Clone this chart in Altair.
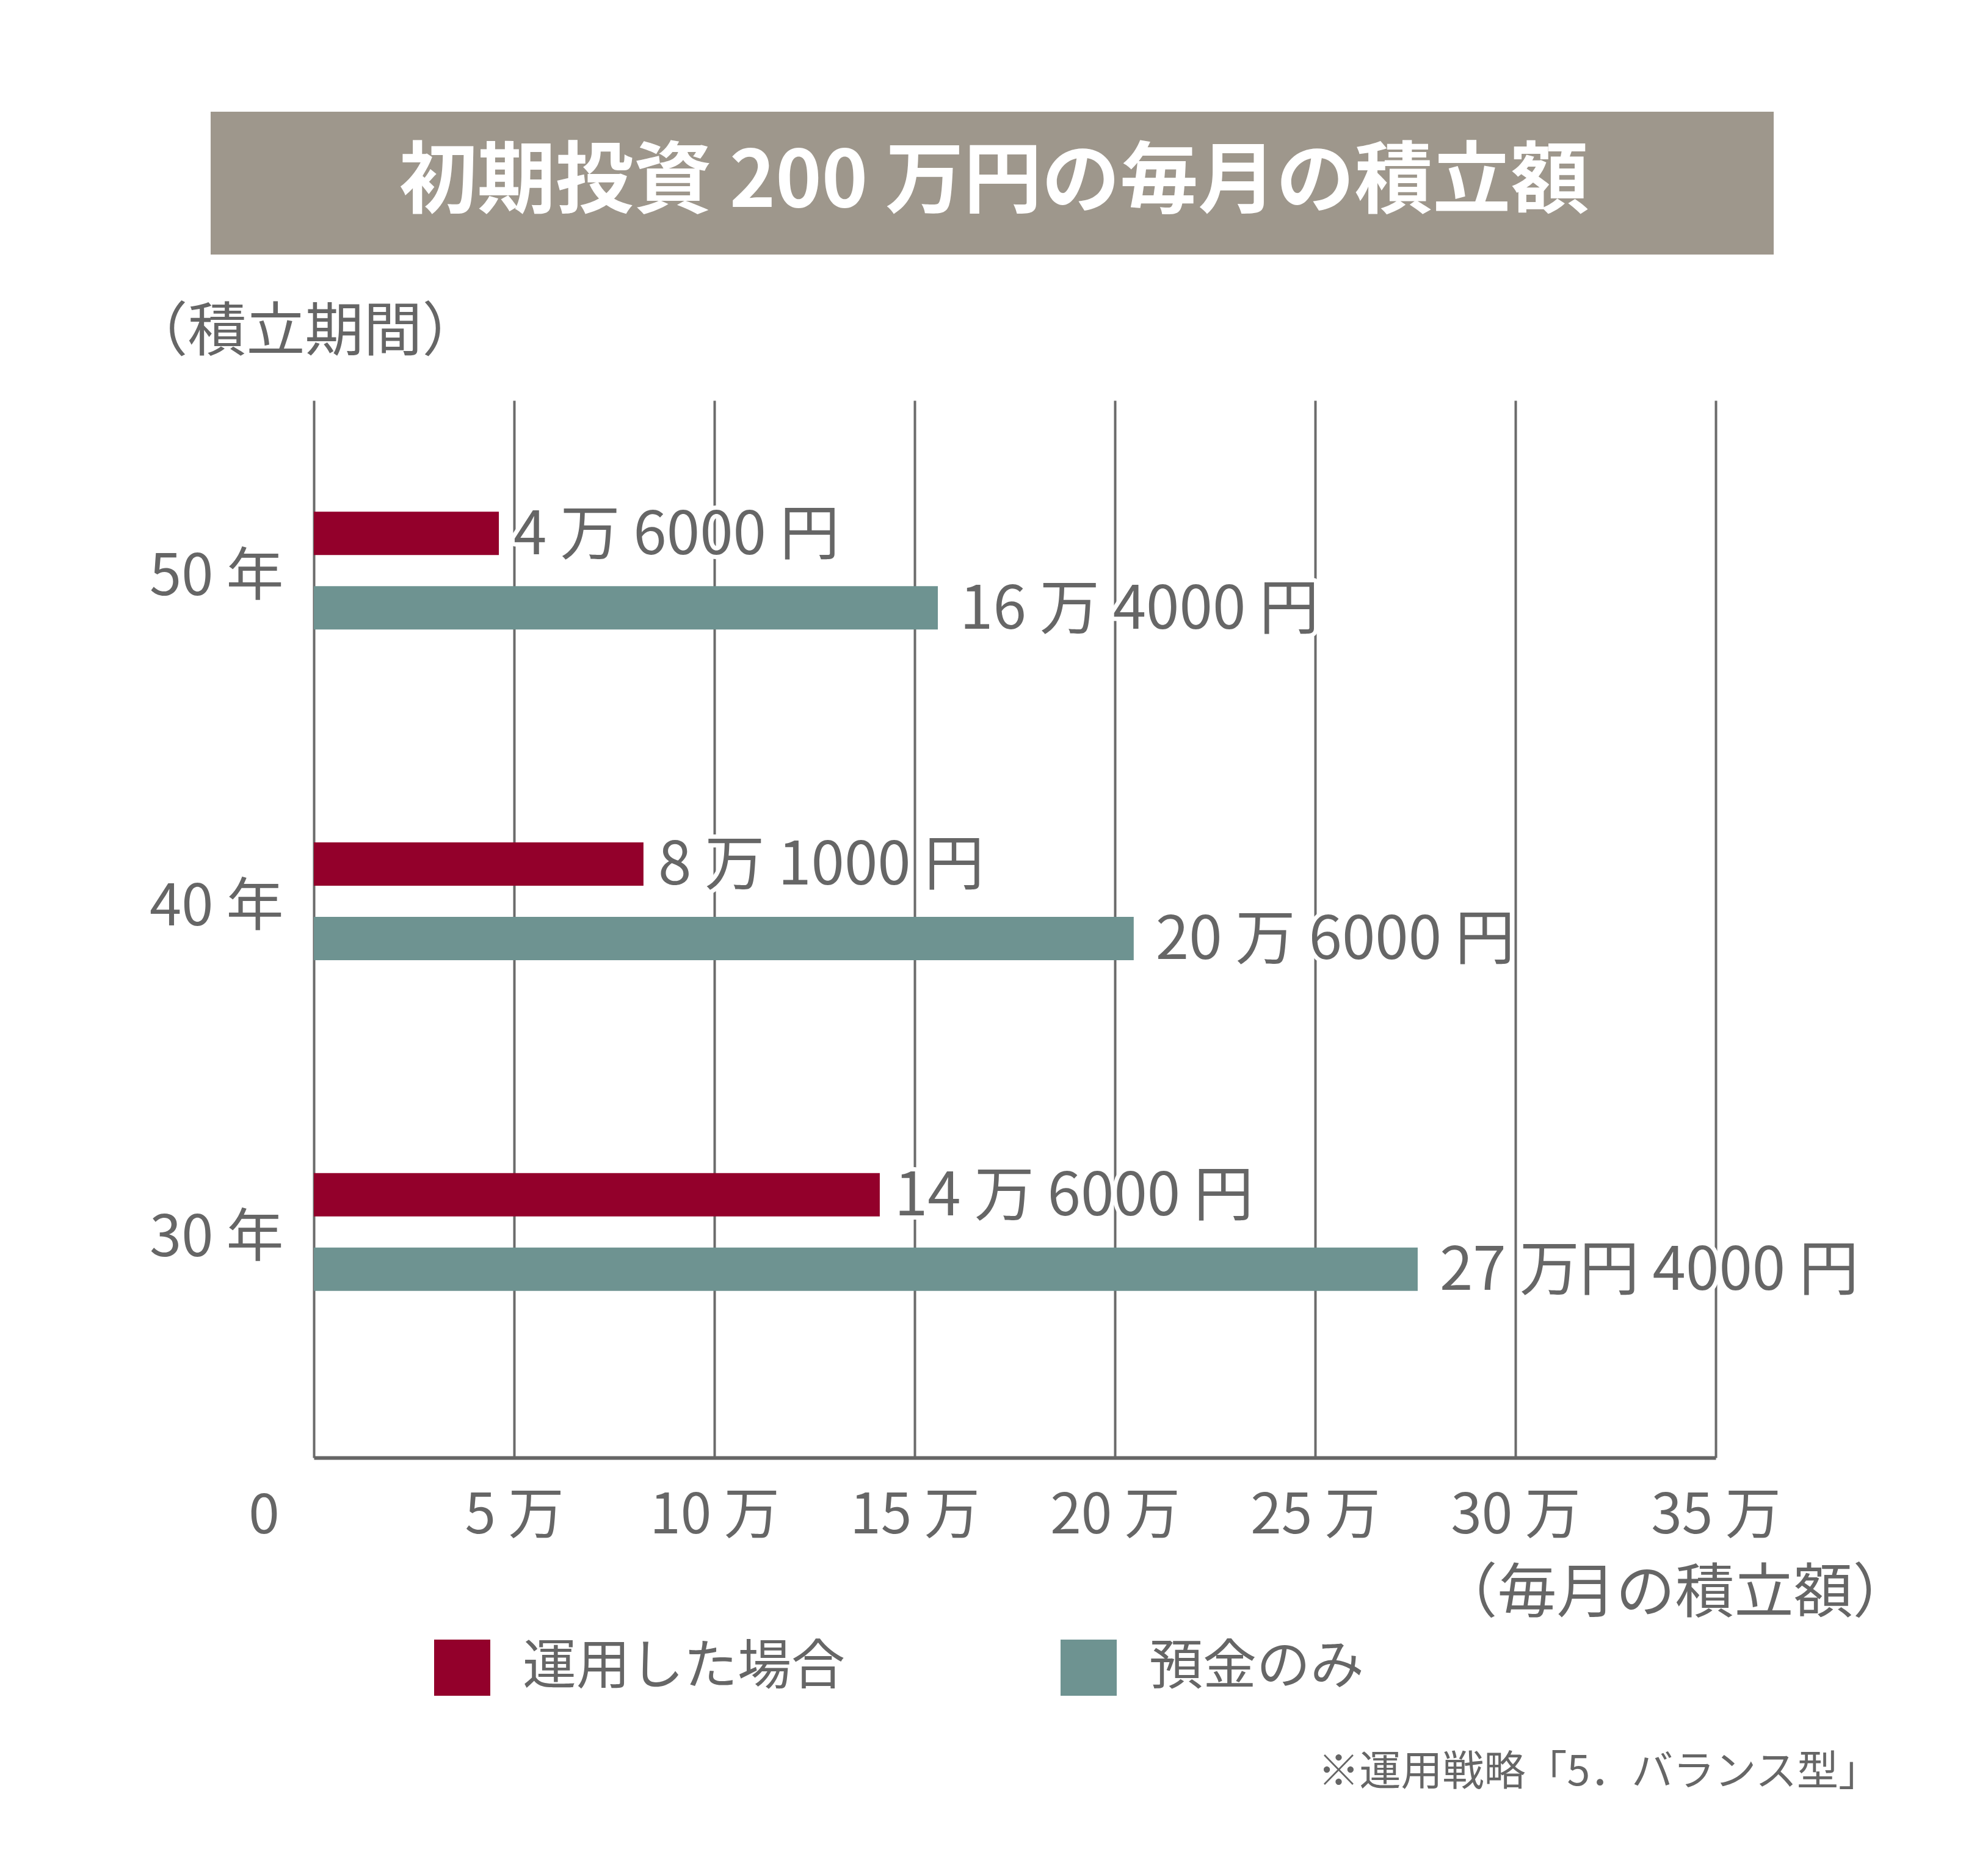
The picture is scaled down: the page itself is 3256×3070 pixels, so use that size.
import altair as alt
import pandas as pd

# ---- data ----
periods = ["50 年", "40 年", "30 年"]
series = ["運用した場合", "預金のみ"]
# bar lengths as drawn (unit: 万円)
values_unyo = [4.62, 8.23, 14.13]
values_yokin = [15.58, 20.47, 27.56]
labels_unyo = ["4 万 6000 円", "8 万 1000 円", "14 万 6000 円"]
labels_yokin = ["16 万 4000 円", "20 万 6000 円", "27 万円 4000 円"]
x_ticks = [0, 5, 10, 15, 20, 25, 30, 35]
title_text = ["初期投資 200 万円の毎月の積立額"]
note_text = ["※運用戦略「5．バランス型」"]

FONT = "Noto Sans CJK JP"
TXT = "#666666"
GRID = "#6b6b6b"
RED = "#93002b"
TEAL = "#6e9391"
BOX = "#9e978c"

rows = []
for i, p in enumerate(periods):
    rows.append({"period": p, "series": series[0], "value": values_unyo[i], "label": labels_unyo[i]})
    rows.append({"period": p, "series": series[1], "value": values_yokin[i], "label": labels_yokin[i]})
df = pd.DataFrame(rows)
title_df = pd.DataFrame({"t": title_text})
note_df = pd.DataFrame({"t": note_text})

W, H = 2296, 1732

x_enc = alt.X(
    "value:Q",
    scale=alt.Scale(domain=[0, 35], nice=False, zero=True),
    axis=alt.Axis(
        values=x_ticks,
        labelExpr="datum.value === 0 ? '0' : datum.value + ' 万'",
        title="（毎月の積立額）",
        grid=True, gridColor=GRID, gridWidth=4,
        domain=True, domainColor="#666666", domainWidth=6,
        ticks=False,
        labelFont=FONT, labelFontSize=91, labelColor=TXT, labelPadding=51,
        labelOffset={"condition": {"test": "datum.value === 0", "value": -82}, "value": 0},
        labelFlush=False, labelOverlap=False, labelLimit=1000,
        titleX=2617, titleY=223, titleAlign="right", titleBaseline="middle",
        titleFont=FONT, titleFontSize=97, titleColor=TXT, titleFontWeight="normal",
        titleLimit=2000,
    ),
)
y_enc = alt.Y(
    "period:N",
    sort=periods,
    scale=alt.Scale(paddingInner=0.6437, paddingOuter=0.4204, align=0.40),
    axis=alt.Axis(
        title="（積立期間）", titleAngle=0, titleAlign="left", titleBaseline="middle",
        titleX=-303, titleY=-112, titleFont=FONT, titleFontSize=96, titleColor=TXT,
        titleFontWeight="normal", titleLimit=2000,
        labelFont=FONT, labelFontSize=94, labelColor=TXT, labelPadding=50, labelLimit=1000,
        labelOffset=12,
        ticks=False, domain=False, grid=False,
    ),
)
yo_enc = alt.YOffset("series:N", sort=series, scale=alt.Scale(paddingInner=0.418, paddingOuter=0))

base = alt.Chart(df)

bars = base.mark_bar().encode(
    x=x_enc, y=y_enc, yOffset=yo_enc,
    color=alt.Color(
        "series:N", sort=series,
        scale=alt.Scale(domain=series, range=[RED, TEAL]),
        legend=alt.Legend(
            title=None, orient="none", legendX=197, legendY=2030, direction="horizontal",
            symbolType="square", symbolSize=8464, symbolStrokeWidth=0, symbolOpacity=1,
            labelFont=FONT, labelFontSize=88, labelColor=TXT, labelOffset=53,
            columnPadding=352, padding=0, labelLimit=1000,
        ),
    ),
)

def label_layers(sname, dx):
    b = base.transform_filter(alt.datum.series == sname)
    halo = b.mark_text(align="left", baseline="middle", font=FONT, fontSize=98, dx=dx, dy=5,
                       color="white", stroke="white", strokeWidth=14, strokeJoin="round").encode(
        x=x_enc, y=y_enc, yOffset=yo_enc, text="label:N")
    txt = b.mark_text(align="left", baseline="middle", font=FONT, fontSize=98, dx=dx, dy=5,
                      color=TXT).encode(
        x=x_enc, y=y_enc, yOffset=yo_enc, text="label:N")
    return [halo, txt]

box = alt.Chart(title_df).mark_rect(color=BOX).encode(
    x=alt.value(-169), x2=alt.value(2391), y=alt.value(-473), y2=alt.value(-239))
title = alt.Chart(title_df).mark_text(
    font=FONT, fontSize=128, fontWeight="bold", color="white", align="center", baseline="middle"
).encode(x=alt.value(1114), y=alt.value(-355), text="t:N")
note = alt.Chart(note_df).mark_text(
    font=FONT, fontSize=68, color=TXT, align="right", baseline="middle"
).encode(x=alt.value(2565), y=alt.value(2249), text="t:N")

layers = [box, title, bars] + label_layers(series[0], 24) + label_layers(series[1], 36) + [note]

chart = alt.layer(*layers).properties(
    width=W, height=H,
    autosize=alt.AutoSizeParams(type="none"),
    padding={"left": 506, "top": 648, "right": 438, "bottom": 674},
).configure(font=FONT).configure_view(strokeWidth=0)

chart.save("out.html", embed_options={"renderer": "svg", "actions": False})
